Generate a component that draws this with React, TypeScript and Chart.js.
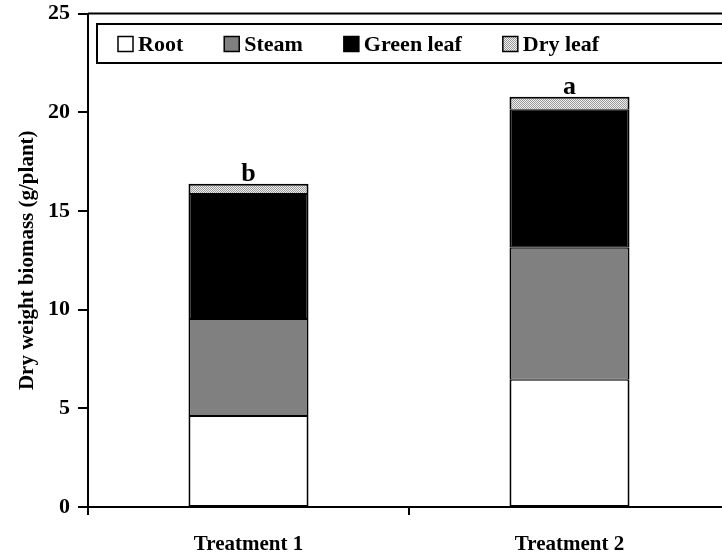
import React, { useEffect, useRef } from "react";
import { Chart, registerables } from "chart.js";

Chart.register(...registerables);

const categories = ["Treatment 1", "Treatment 2"];
const rootValues = [4.61, 6.44];
const steamValues = [4.91, 6.69];
const greenLeafValues = [6.34, 7.0];
const dryLeafValues = [0.52, 0.65];
const sigLetters = ["b", "a"];
const yTickMin = 0;
const yTickMax = 25;
const yTickStep = 5;
const yTitle = "Dry weight biomass (g/plant)";

const FONT = "'Liberation Serif', 'Times New Roman', serif";

function makeHatch(): CanvasPattern | string {
  const c = document.createElement("canvas");
  c.width = 2;
  c.height = 2;
  const g = c.getContext("2d");
  if (!g) return "#c8c8c8";
  g.fillStyle = "#f0f0f0";
  g.fillRect(0, 0, 2, 2);
  g.fillStyle = "#999999";
  g.fillRect(0, 0, 1, 1);
  g.fillRect(1, 1, 1, 1);
  const p = g.createPattern(c, "repeat");
  return p || "#c8c8c8";
}

export default function App() {
  const ref = useRef<HTMLCanvasElement | null>(null);

  useEffect(() => {
    const canvas = ref.current;
    if (!canvas) return;
    const hatch = makeHatch();

    const framePlugin = {
      id: "frameAndLegend",
      afterDraw(chart: any) {
        const { ctx, chartArea } = chart;
        ctx.save();
        ctx.strokeStyle = "#000";
        ctx.lineWidth = 2;
        ctx.beginPath();
        ctx.moveTo(chartArea.left, chartArea.top);
        ctx.lineTo(chartArea.right + 20, chartArea.top);
        ctx.stroke();

        const boxTop = 24;
        const boxBottom = 63;
        const boxLeft = 97;
        ctx.fillStyle = "#fff";
        ctx.fillRect(boxLeft, boxTop, chart.width, boxBottom - boxTop);
        ctx.strokeRect(boxLeft, boxTop, chart.width, boxBottom - boxTop);

        ctx.font = `bold 22px ${FONT}`;
        ctx.textBaseline = "middle";
        ctx.textAlign = "left";
        const midY = (boxTop + boxBottom) / 2 + 1;
        let x = 118;
        chart.data.datasets.forEach((ds: any) => {
          const sw = 15;
          ctx.fillStyle = ds.backgroundColor;
          ctx.fillRect(x, midY - 8, sw, sw);
          ctx.lineWidth = 1.5;
          ctx.strokeStyle = "#000";
          ctx.strokeRect(x, midY - 8, sw, sw);
          ctx.fillStyle = "#000";
          ctx.fillText(ds.label, x + sw + 5, midY + 1);
          x += sw + 5 + ctx.measureText(ds.label).width + 41;
        });

        const lastIdx = chart.data.datasets.length - 1;
        const meta = chart.getDatasetMeta(lastIdx);
        ctx.font = `bold 26px ${FONT}`;
        ctx.textAlign = "center";
        ctx.textBaseline = "alphabetic";
        ctx.fillStyle = "#000";
        meta.data.forEach((el: any, i: number) => {
          ctx.fillText(sigLetters[i], el.x, el.y - 3);
        });
        ctx.restore();
      },
    };

    const common = {
      borderColor: "#000",
      borderWidth: { top: 1, bottom: 1, left: 2, right: 2 },
      borderSkipped: false as const,
      barPercentage: 1,
      categoryPercentage: 0.374,
    };

    const chart = new Chart(canvas, {
      type: "bar",
      data: {
        labels: categories,
        datasets: [
          { label: "Root", data: rootValues, backgroundColor: "#ffffff", ...common },
          { label: "Steam", data: steamValues, backgroundColor: "#808080", ...common },
          { label: "Green leaf", data: greenLeafValues, backgroundColor: "#000000", ...common },
          {
            label: "Dry leaf",
            data: dryLeafValues,
            backgroundColor: hatch as any,
            ...common,
            borderWidth: { top: 2, bottom: 1, left: 2, right: 2 },
          },
        ],
      },
      options: {
        responsive: false,
        animation: false,
        devicePixelRatio: 1,
        layout: { padding: { top: 12, right: 10, left: 0, bottom: 0 } },
        plugins: {
          legend: { display: false },
          tooltip: { enabled: false },
        },
        scales: {
          x: {
            stacked: true,
            grid: {
              display: true,
              drawOnChartArea: false,
              drawTicks: true,
              tickLength: 8,
              color: "#000",
              lineWidth: 2,
              offset: true,
            },
            border: { display: true, color: "#000", width: 2 },
            ticks: {
              color: "#000",
              font: { family: FONT, size: 21, weight: "bold" },
              padding: 17,
              maxRotation: 0,
            },
            afterFit(scale: any) {
              scale.height = 47;
            },
          },
          y: {
            stacked: true,
            min: yTickMin,
            max: yTickMax,
            grid: {
              display: true,
              drawOnChartArea: false,
              drawTicks: true,
              tickLength: 10,
              color: "#000",
              lineWidth: 2,
            },
            border: { display: true, color: "#000", width: 2 },
            ticks: {
              stepSize: yTickStep,
              color: "#000",
              font: { family: FONT, size: 22, weight: "bold", lineHeight: 0.5 },
              padding: 8,
            },
            title: {
              display: true,
              text: yTitle,
              color: "#000",
              font: { family: FONT, size: 21, weight: "bold" },
              padding: { top: 15, bottom: 0 },
            },
            afterFit(scale: any) {
              scale.width = 88;
            },
          },
        },
      },
      plugins: [framePlugin],
    });

    return () => chart.destroy();
  }, []);

  return (
    <div
      style={{
        position: "fixed",
        left: 0,
        top: 0,
        width: 722,
        height: 554,
        overflow: "hidden",
        background: "#fff",
      }}
    >
      <canvas ref={ref} width={740} height={554} style={{ width: 740, height: 554, display: "block" }} />
    </div>
  );
}
